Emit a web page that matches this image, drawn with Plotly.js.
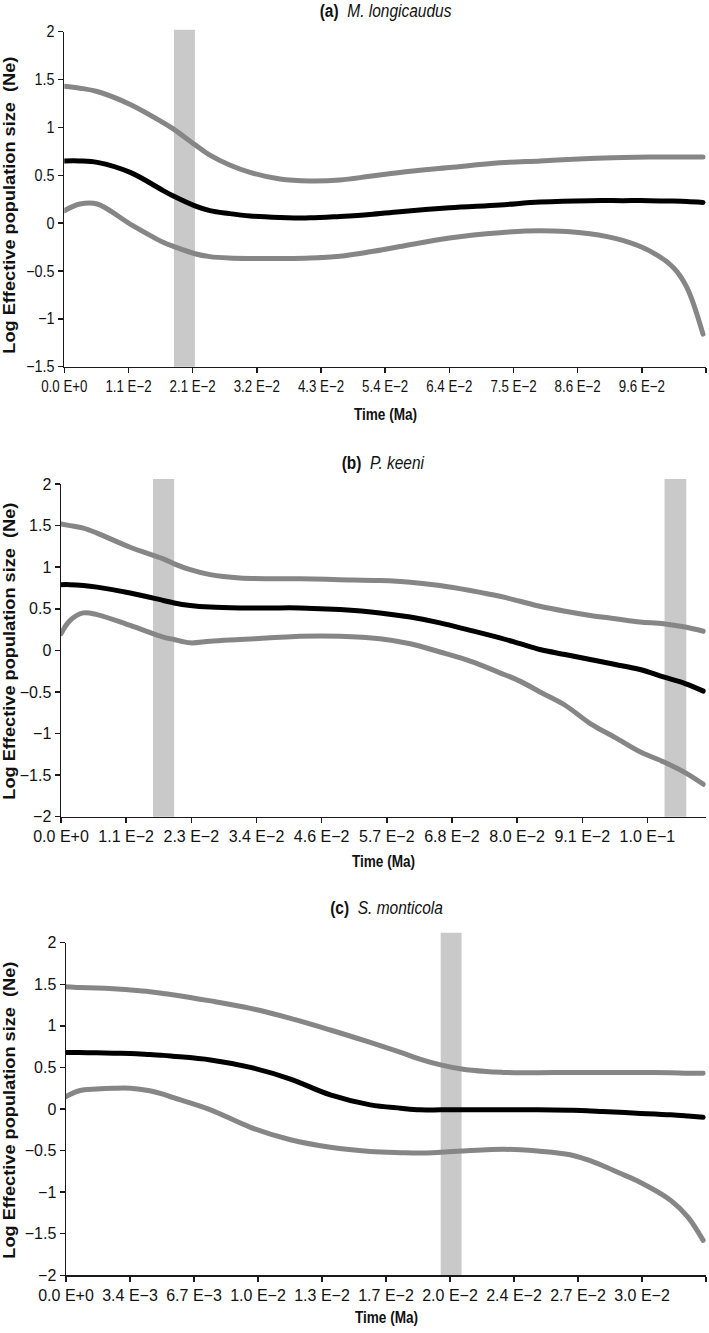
<!DOCTYPE html>
<html>
<head>
<meta charset="utf-8">
<script src="https://cdn.plot.ly/plotly-3.0.1.min.js"></script>
<style>
html,body{margin:0;padding:0;background:#fff;}
#chart{width:709px;height:1333px;}
#chart path.js-line{stroke-linecap:round;stroke-linejoin:round;}
</style>
</head>
<body>
<div id="chart"></div>
<script>
// ---------- DATA ----------
// Panel (a) M. longicaudus
const titleA = "(a)";
const speciesA = "M. longicaudus";
const timeA  = [0, 0.0026, 0.0055, 0.011, 0.0165, 0.0183, 0.0218, 0.0243, 0.0275, 0.031, 0.036, 0.041, 0.046, 0.051, 0.056, 0.0643, 0.0727, 0.0794, 0.0877, 0.0932, 0.0977, 0.1016, 0.1039, 0.1066];
const upperA = [1.43, 1.41, 1.375, 1.24, 1.05, 0.98, 0.82, 0.71, 0.61, 0.53, 0.46, 0.44, 0.45, 0.49, 0.53, 0.58, 0.63, 0.65, 0.675, 0.685, 0.69, 0.69, 0.69, 0.69];
const meanA  = [0.65, 0.65, 0.635, 0.53, 0.34, 0.28, 0.18, 0.13, 0.10, 0.075, 0.06, 0.055, 0.07, 0.09, 0.12, 0.16, 0.19, 0.22, 0.235, 0.235, 0.235, 0.23, 0.225, 0.216];
const lowerA = [0.13, 0.20, 0.20, -0.01, -0.20, -0.245, -0.32, -0.35, -0.365, -0.37, -0.37, -0.365, -0.345, -0.30, -0.245, -0.155, -0.10, -0.08, -0.11, -0.18, -0.29, -0.46, -0.67, -1.16];
const barsA  = [[0.0183, 0.0218]];
const tickStepA = 0.01071;
const tickLabelsA = ["0.0 E+0", "1.1 E\u22122", "2.1 E\u22122", "3.2 E\u22122", "4.3 E\u22122", "5.4 E\u22122", "6.4 E\u22122", "7.5 E\u22122", "8.6 E\u22122", "9.6 E\u22122", ""];
const xMaxA = 0.1071;
const yRangeA = [-1.5, 2];
const barTopA = 2.02;

// Panel (b) P. keeni
const titleB = "(b)";
const speciesB = "P. keeni";
const timeB  = [0, 0.0016, 0.0039, 0.0063, 0.0121, 0.0179, 0.0198, 0.0226, 0.0261, 0.0313, 0.0366, 0.0418, 0.0488, 0.0558, 0.0611, 0.0663, 0.0716, 0.0768, 0.0803, 0.0838, 0.0882, 0.0926, 0.0970, 0.1013, 0.1054, 0.1092, 0.1124];
const upperB = [1.52, 1.50, 1.47, 1.41, 1.24, 1.10, 1.04, 0.97, 0.91, 0.87, 0.86, 0.86, 0.85, 0.84, 0.82, 0.78, 0.72, 0.65, 0.59, 0.53, 0.47, 0.42, 0.38, 0.34, 0.32, 0.28, 0.23];
const meanB  = [0.79, 0.79, 0.78, 0.76, 0.69, 0.60, 0.57, 0.54, 0.52, 0.51, 0.51, 0.51, 0.49, 0.45, 0.40, 0.33, 0.24, 0.15, 0.08, 0.01, -0.05, -0.11, -0.17, -0.23, -0.32, -0.40, -0.49];
const lowerB = [0.20, 0.36, 0.45, 0.43, 0.30, 0.16, 0.13, 0.09, 0.11, 0.13, 0.15, 0.17, 0.17, 0.14, 0.08, -0.02, -0.13, -0.27, -0.37, -0.50, -0.66, -0.88, -1.05, -1.22, -1.34, -1.47, -1.61];
const barsB  = [[0.0161, 0.0198], [0.1056, 0.1094]];
const tickStepB = 0.0114;
const tickLabelsB = ["0.0 E+0", "1.1 E\u22122", "2.3 E\u22122", "3.4 E\u22122", "4.6 E\u22122", "5.7 E\u22122", "6.8 E\u22122", "8.0 E\u22122", "9.1 E\u22122", "1.0 E\u22121"];
const xMaxB = 0.1128;
const yRangeB = [-2, 2];
const barTopB = 2.06;

// Panel (c) S. monticola
const titleC = "(c)";
const speciesC = "S. monticola";
const timeC  = [0, 0.0007, 0.0016, 0.0025, 0.0034, 0.0044, 0.0051, 0.0056, 0.0076, 0.0097, 0.0118, 0.0139, 0.016, 0.0176, 0.0186, 0.0197, 0.0208, 0.0221, 0.023, 0.0239, 0.0248, 0.0265, 0.0274, 0.0282, 0.0291, 0.03, 0.0318, 0.0327, 0.0335];
const upperC = [1.47, 1.46, 1.455, 1.445, 1.43, 1.41, 1.39, 1.375, 1.30, 1.21, 1.09, 0.95, 0.80, 0.68, 0.60, 0.53, 0.48, 0.45, 0.44, 0.435, 0.435, 0.44, 0.44, 0.44, 0.44, 0.44, 0.435, 0.43, 0.43];
const meanC  = [0.68, 0.68, 0.675, 0.67, 0.668, 0.655, 0.645, 0.635, 0.59, 0.50, 0.36, 0.17, 0.05, 0.01, -0.01, -0.01, -0.01, -0.01, -0.01, -0.01, -0.01, -0.015, -0.02, -0.03, -0.04, -0.05, -0.07, -0.085, -0.10];
const lowerC = [0.15, 0.22, 0.24, 0.25, 0.25, 0.22, 0.18, 0.14, -0.01, -0.22, -0.37, -0.46, -0.51, -0.525, -0.53, -0.52, -0.505, -0.49, -0.485, -0.49, -0.505, -0.55, -0.61, -0.68, -0.77, -0.86, -1.10, -1.30, -1.58];
const barsC  = [[0.0197, 0.0208]];
const tickStepC = 0.003365;
const tickLabelsC = ["0.0 E+0", "3.4 E\u22123", "6.7 E\u22123", "1.0 E\u22122", "1.3 E\u22122", "1.7 E\u22122", "2.0 E\u22122", "2.4 E\u22122", "2.7 E\u22122", "3.0 E\u22122", ""];
const xMaxC = 0.03365;
const yRangeC = [-2, 2];
const barTopC = 2.12;

const yTitle = "Log Effective population size  (Ne)";
const xTitle = "Time (Ma)";

// ---------- STYLE / LAYOUT ----------
const W = 709, H = 1333;
const FONT = "'Liberation Sans', Arial, sans-serif";
const GRAY = "#868686", BLACK = "#000000", BARC = "#c9c9c9", AXC = "#1a1a1a";

const panels = [
  {title: titleA, sp: speciesA, t: timeA, up: upperA, mean: meanA, low: lowerA, bars: barsA, step: tickStepA, labels: tickLabelsA, xmax: xMaxA, yr: yRangeA, barTop: barTopA,
   px: [64.3, 706], py: [31.7, 366.7], titleY: 11, xTitleY: 414, yTitleY: 205},
  {title: titleB, sp: speciesB, t: timeB, up: upperB, mean: meanB, low: lowerB, bars: barsB, step: tickStepB, labels: tickLabelsB, xmax: xMaxB, yr: yRangeB, barTop: barTopB,
   px: [61, 705.7], py: [484, 816.7], titleY: 463, xTitleY: 861, yTitleY: 651},
  {title: titleC, sp: speciesC, t: timeC, up: upperC, mean: meanC, low: lowerC, bars: barsC, step: tickStepC, labels: tickLabelsC, xmax: xMaxC, yr: yRangeC, barTop: barTopC,
   px: [66, 706], py: [942.7, 1275.3], titleY: 908, xTitleY: 1317, yTitleY: 1110}
];

const traces = [];
const layout = {
  width: W, height: H,
  margin: {l: 0, r: 0, t: 0, b: 0, pad: 0},
  paper_bgcolor: "#ffffff", plot_bgcolor: "#ffffff",
  showlegend: false,
  annotations: [],
  shapes: []
};

panels.forEach((p, i) => {
  const n = i === 0 ? "" : String(i + 1);
  const xa = "x" + n, ya = "y" + n;
  // gray period bars (from data intervals)
  p.bars.forEach(b => {
    layout.shapes.push({
      type: "rect", layer: "below", xref: xa, yref: ya + " domain",
      x0: b[0], x1: b[1], y0: 0, y1: (p.barTop - p.yr[0]) / (p.yr[1] - p.yr[0]),
      fillcolor: BARC, line: {width: 0}
    });
  });
  const lineTrace = (y, color, name) => ({
    type: "scatter", mode: "lines", name: name, xaxis: xa, yaxis: ya,
    x: p.t, y: y,
    line: {color: color, width: 5, shape: "spline", smoothing: 1.0},
    hoverinfo: "skip"
  });
  traces.push(lineTrace(p.up, GRAY, "Upper 95% HPD"));
  traces.push(lineTrace(p.low, GRAY, "Lower 95% HPD"));
  traces.push(lineTrace(p.mean, BLACK, "Median"));

  const axCommon = {
    showline: true, linecolor: AXC, linewidth: 1.5,
    ticks: "outside", ticklen: 5, tickwidth: 1.5, tickcolor: AXC,
    showgrid: false, zeroline: false, fixedrange: true,
    tickfont: {family: FONT, size: 16, color: "#111"}
  };
  layout["xaxis" + n] = Object.assign({}, axCommon, {
    domain: [p.px[0] / W, p.px[1] / W], anchor: ya,
    range: [0, p.xmax],
    tickmode: "array",
    tickvals: p.labels.map((_, k) => k * p.step),
    ticktext: p.labels
  });
  layout["yaxis" + n] = Object.assign({}, axCommon, {
    domain: [1 - p.py[1] / H, 1 - p.py[0] / H], anchor: xa,
    range: p.yr, tick0: 0, dtick: 0.5, tickmode: "linear"
  });
  const cx = (p.px[0] + p.px[1]) / 2 / W;
  layout.annotations.push({
    xref: "paper", yref: "paper", x: cx, y: 1 - p.titleY / H,
    xanchor: "center", yanchor: "middle", showarrow: false,
    text: "<b>" + p.title + "</b>  <i>" + p.sp + "</i>",
    font: {family: FONT, size: 18, color: "#111"}
  });
  layout.annotations.push({
    xref: "paper", yref: "paper", x: cx, y: 1 - p.xTitleY / H,
    xanchor: "center", yanchor: "middle", showarrow: false,
    text: "<b>" + xTitle + "</b>",
    font: {family: FONT, size: 17, color: "#111"}
  });
  layout.annotations.push({
    xref: "paper", yref: "paper", x: 9 / W, y: 1 - p.yTitleY / H,
    xanchor: "center", yanchor: "middle", showarrow: false, textangle: -90,
    text: "<b>" + yTitle + "</b>",
    font: {family: FONT, size: 17, color: "#111"}
  });
});

// condense horizontal text (the original uses a narrow face) and stretch the y title
function squeeze(el, factor) {
  const w = el.getComputedTextLength();
  if (w > 0) {
    el.setAttribute("textLength", (w * factor).toFixed(1));
    el.setAttribute("lengthAdjust", "spacingAndGlyphs");
  }
}
Plotly.newPlot("chart", traces, layout, {staticPlot: true, displayModeBar: false}).then(gd => {
  gd.querySelectorAll(".xtick text").forEach(t => squeeze(t, 0.83));
  gd.querySelectorAll(".ytick text").forEach(t => squeeze(t, 0.9));
  gd.querySelectorAll(".annotation-text").forEach(t => {
    const s = t.textContent;
    if (s.indexOf("Log Effective") === 0) squeeze(t, 1.07);
    else if (s.indexOf("Time") === 0) squeeze(t, 0.8);
    else squeeze(t, 0.86);
  });
});
</script>
</body>
</html>
